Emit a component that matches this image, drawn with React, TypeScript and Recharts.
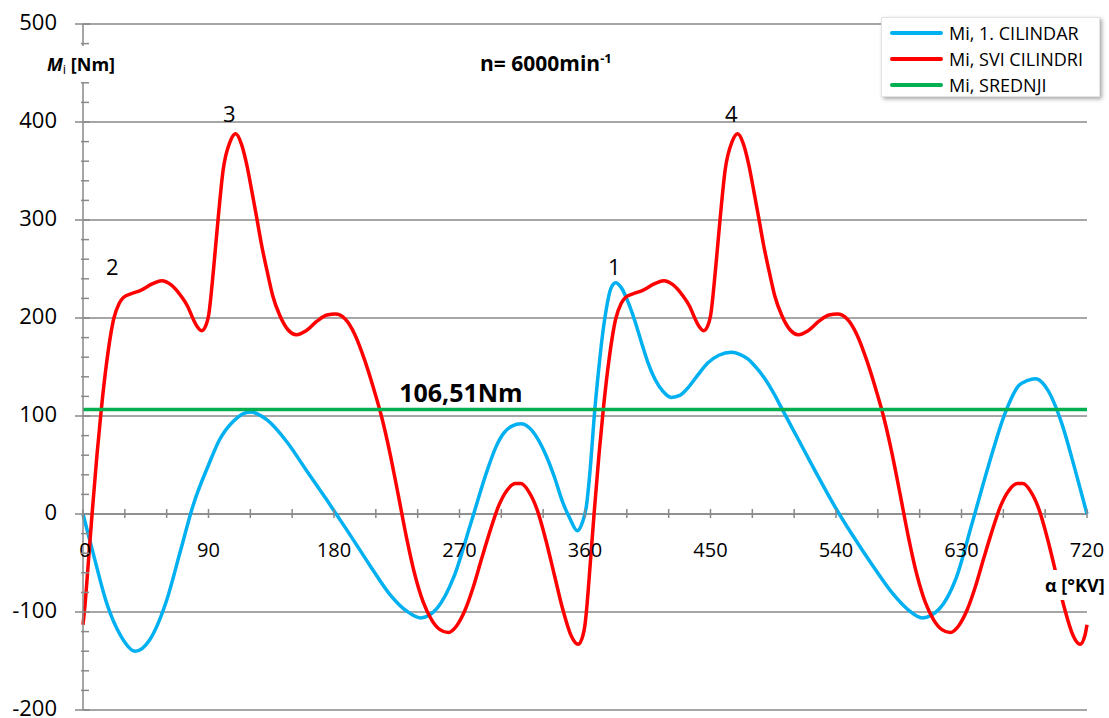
import React from 'react';
import { LineChart, Line, XAxis, YAxis, CartesianGrid, ReferenceLine, ReferenceDot } from 'recharts';

// Mi, 1. CILINDAR (crank angle in deg, torque in Nm)
const cyl1Deg = [
  0, 8, 17, 27, 37.5, 48, 60, 70, 79, 90,
  98, 108, 120, 132, 146, 160, 175, 190, 206, 220,
  232, 242, 254, 266, 278, 290, 296, 302, 308, 314,
  320, 326, 332, 338, 344, 349, 354.5, 358, 361, 363.5,
  367, 370, 372.5, 375.5, 378.5, 382, 386, 391, 396, 400.5,
  405, 410, 416, 422, 428, 434, 441, 448, 456, 465,
  471, 477, 483, 489, 495, 501, 513, 525, 539, 552,
  566, 580, 592, 602, 614, 626, 637.5, 649.5, 661, 671,
  677, 683, 688, 692.5, 702, 711.5, 720,
];
const cyl1Mi = [
  0, -44, -91, -124, -140, -128, -88, -37, 9, 50,
  76, 95, 104, 96, 74, 45, 14, -18, -53, -82,
  -99, -106, -96, -64, -10, 45, 68, 83, 90, 92,
  88, 77, 60, 38, 12, -4, -17, -9, 8, 42,
  106, 150, 182, 211, 230, 236, 231, 216, 196, 175,
  155, 138, 125, 119, 121, 129, 142, 154, 162, 165,
  163, 158, 149, 138, 124, 108, 76, 44, 8, -22,
  -52, -80, -98, -106, -97, -66, -10, 50, 102, 131,
  136, 138, 134, 125, 92, 45, 0,
];

// Mi, SVI CILINDRI
const allDeg = [
  0, 1.5, 3, 6.5, 10, 13, 17, 22, 26, 29, 35,
  41, 50, 56.5, 63, 70, 75, 79, 82, 85, 88,
  90, 93.5, 97, 100.5, 105.5, 109.5, 113.5, 117.5, 121, 124.5,
  128, 132, 136, 141, 147, 153, 160, 168, 175, 181,
  188, 195, 202, 208, 214, 220, 226, 232, 238, 244,
  250, 256, 262, 268, 274, 280, 286, 292, 298, 304,
  310, 314, 320, 326, 332, 338, 344, 350, 355, 358.5,
  360, 361.5, 363, 366.5, 370, 373, 377, 382, 386, 389, 395,
  401, 410, 416.5, 423, 430, 435, 439, 442, 445, 448,
  450, 453.5, 457, 460.5, 465.5, 469.5, 473.5, 477.5, 481, 484.5,
  488, 492, 496, 501, 507, 513, 520, 528, 535, 541,
  548, 555, 562, 568, 574, 580, 586, 592, 598, 604,
  610, 616, 622, 628, 634, 640, 646, 652, 658, 664,
  670, 674, 680, 686, 692, 698, 704, 710, 715, 718.5,
  720,
];
const allMi = [
  -113, -92, -65, 0, 60, 105, 155, 199, 215, 221, 225,
  228, 235, 238, 234, 223, 212, 199, 191, 187, 192,
  202, 248, 303, 351, 380, 388, 378, 356, 330, 303,
  275, 248, 223, 203, 188, 183, 187, 197, 203, 204,
  199, 183, 157, 130, 100, 63, 20, -24, -62, -90,
  -108, -118, -121, -114, -98, -74, -45, -17, 8, 24,
  31, 31, 22, 3, -27, -62, -97, -124, -133, -124,
  -113, -92, -65, 0, 60, 105, 155, 199, 215, 221, 225,
  228, 235, 238, 234, 223, 212, 199, 191, 187, 192,
  202, 248, 303, 351, 380, 388, 378, 356, 330, 303,
  275, 248, 223, 203, 188, 183, 187, 197, 203, 204,
  199, 183, 157, 130, 100, 63, 20, -24, -62, -90,
  -108, -118, -121, -114, -98, -74, -45, -17, 8, 24,
  31, 31, 22, 3, -27, -62, -97, -124, -133, -124,
  -113,
];

// Mi, SREDNJI
const meanDeg = [0, 720];
const meanMi = [106.51, 106.51];

const xTicks = [0, 30, 60, 90, 120, 150, 180, 210, 240, 270, 300, 330, 360, 390, 420, 450, 480, 510, 540, 570, 600, 630, 660, 690, 720];
const xLabels = [0, 90, 180, 270, 360, 450, 540, 630, 720];
const yTicks = [-200, -180, -160, -140, -120, -100, -80, -60, -40, -20, 0, 20, 40, 60, 80, 100, 120, 140, 160, 180, 200, 220, 240, 260, 280, 300, 320, 340, 360, 380, 400, 420, 440, 460, 480, 500];
const yLabels = [-200, -100, 0, 100, 200, 300, 400, 500];

const peakNames = ['1', '2', '3', '4'];
const peakDeg = [381, 21, 105, 465];
const peakMi = [244, 244, 400, 400];

const toRows = (deg: number[], mi: number[]) => deg.map((d, i) => ({ deg: d, mi: mi[i] }));

const FONT = "'Open Sans', sans-serif";
const GRID = '#898989';
const BLUE = '#00b0f0';
const RED = '#ff0000';
const GREEN = '#00b050';

const YTick = (props: any) => {
  const { x, y, payload } = props;
  const major = payload.value % 100 === 0;
  return (
    <g>
      <line x1={major ? x - 8 : x - 2} x2={major ? x + 7 : x + 6} y1={y} y2={y} stroke={GRID} strokeWidth={1.5} />
      {major && (
        <text x={x - 26} y={y + 6} textAnchor="end" fontSize={22} fontFamily={FONT} fill="#000">
          {payload.value}
        </text>
      )}
    </g>
  );
};

const xTickShape = (t: number) => (p: any) => (
  <g>
    <line x1={p.cx} x2={p.cx} y1={p.cy - 5} y2={p.cy + 4} stroke={GRID} strokeWidth={1.5} />
    {xLabels.includes(t) && (
      <text x={p.cx + (t === 0 ? 2 : 0)} y={p.cy + 43} textAnchor="middle" fontSize={20} fontFamily={FONT} fill="#000">
        {t}
      </text>
    )}
  </g>
);

const legendItems = [
  { name: 'Mi, 1. CILINDAR', color: BLUE },
  { name: 'Mi, SVI CILINDRI', color: RED },
  { name: 'Mi, SREDNJI', color: GREEN },
];

export default function App() {
  return (
    <div style={{ position: 'absolute', left: 0, top: 0, width: 1109, height: 718, background: '#fff', fontFamily: FONT }}>
      <LineChart width={1109} height={718} margin={{ top: 24, right: 22, bottom: 8, left: 0 }}>
        <CartesianGrid stroke={GRID} strokeWidth={1.5} horizontalValues={yLabels} verticalValues={xLabels} />
        <XAxis type="number" dataKey="deg" domain={[0, 720]} ticks={xLabels} height={0} axisLine={false} tickLine={false} tick={false} />
        <YAxis
          type="number"
          dataKey="mi"
          domain={[-200, 500]}
          ticks={yTicks}
          interval={0}
          width={83}
          tickSize={0}
          tickMargin={0}
          tickLine={false}
          axisLine={{ stroke: GRID, strokeWidth: 1.5 }}
          tick={<YTick />}
        />
        <ReferenceLine y={0} stroke={GRID} strokeWidth={1.5} />
        {xTicks.map((t) => (
          <ReferenceDot key={'xt' + t} x={t} y={0} r={0} shape={xTickShape(t)} />
        ))}
        <Line data={toRows(cyl1Deg, cyl1Mi)} dataKey="mi" type="monotone" stroke={BLUE} strokeWidth={3.5} dot={false} isAnimationActive={false} />
        <Line data={toRows(allDeg, allMi)} dataKey="mi" type="monotone" stroke={RED} strokeWidth={3.5} dot={false} isAnimationActive={false} />
        <Line data={toRows(meanDeg, meanMi)} dataKey="mi" type="linear" stroke={GREEN} strokeWidth={3.5} dot={false} isAnimationActive={false} />
        <ReferenceDot
          x={271}
          y={meanMi[0]}
          r={0}
          shape={(p: any) => (
            <text x={p.cx} y={p.cy - 8} textAnchor="middle" fontSize={25} fontWeight="bold" fontFamily={FONT} fill="#000">
              106,51Nm
            </text>
          )}
        />
        {peakNames.map((n, i) => (
          <ReferenceDot
            key={'pk' + n}
            x={peakDeg[i]}
            y={peakMi[i]}
            r={0}
            shape={(p: any) => (
              <text x={p.cx} y={p.cy} textAnchor="middle" fontSize={22} fontFamily={FONT} fill="#000">
                {n}
              </text>
            )}
          />
        ))}
      </LineChart>

      {/* y axis title */}
      <div style={{ position: 'absolute', left: 40, top: 46, height: 36, lineHeight: '36px', paddingLeft: 7, paddingRight: 5, background: '#fff', fontSize: 18, fontWeight: 'bold', whiteSpace: 'nowrap' }}>
        <i>M</i>
        <span style={{ fontSize: 13, fontWeight: 'normal', verticalAlign: -3 }}>i</span> [Nm]
      </div>

      {/* x axis title */}
      <div style={{ position: 'absolute', left: 1038, top: 570, height: 30, lineHeight: '30px', paddingLeft: 7, width: 64, background: '#fff', fontSize: 18, fontWeight: 'bold', whiteSpace: 'nowrap' }}>
        α [°KV]
      </div>

      {/* speed note */}
      <div style={{ position: 'absolute', left: 480, top: 41, lineHeight: '34px', fontSize: 21, fontWeight: 'bold', whiteSpace: 'nowrap' }}>
        n= 6000min<sup style={{ fontSize: 13 }}>-1</sup>
      </div>

      {/* legend */}
      <div style={{ position: 'absolute', left: 881, top: 17, width: 219, height: 80, background: '#fff', boxShadow: '2px 2px 4px rgba(0,0,0,0.35)', border: '1px solid #e4e4e4', boxSizing: 'border-box' }}>
        {legendItems.map((it, i) => (
          <div key={it.name} style={{ position: 'absolute', left: 8, top: 3 + i * 26, height: 24, display: 'flex', alignItems: 'center', whiteSpace: 'nowrap' }}>
            <div style={{ width: 53, height: 4, borderRadius: 2, background: it.color, marginRight: 6 }} />
            <span style={{ fontSize: 18, color: '#000' }}>{it.name}</span>
          </div>
        ))}
      </div>
    </div>
  );
}
